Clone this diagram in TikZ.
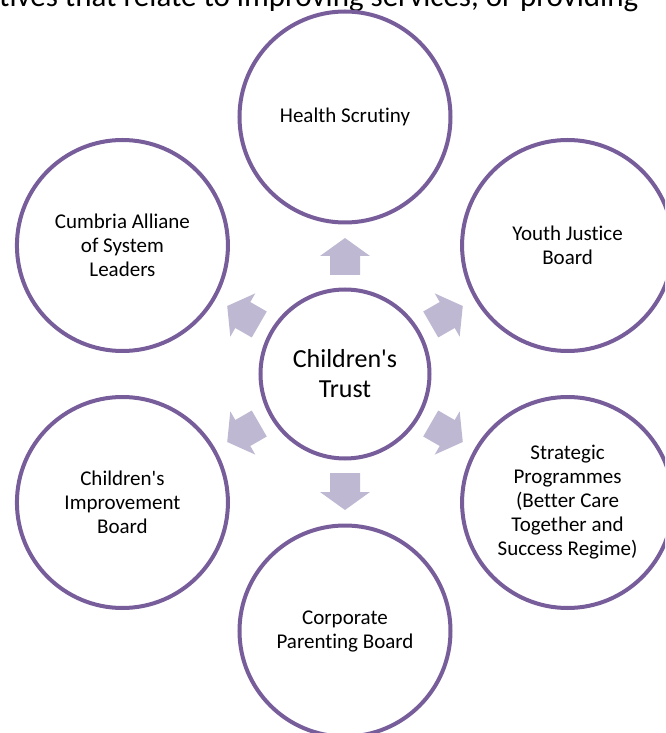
\documentclass[tikz,border=0pt]{standalone}
\usepackage{fontspec}
\setmainfont{Carlito}[Ligatures={TeXOff,CommonOff}]
\usetikzlibrary{calc}
\definecolor{RingClr}{RGB}{120,93,155}
\definecolor{ArrowClr}{RGB}{191,184,210}

\begin{document}
\begin{tikzpicture}[
  ring/.style={circle,draw=RingClr,fill=white,line width=4pt,minimum size=211pt,
    inner sep=0pt,align=center,font=\fontsize{21}{24}\selectfont},
  hub/.style={ring,minimum size=169pt,font=\fontsize{26}{30}\selectfont}]

\useasboundingbox (-345pt,-359pt) rectangle (320pt,374pt);
\clip (-345pt,-359pt) rectangle (320pt,374pt);

% cut-off line of text above the diagram
\node[anchor=base west,inner sep=0pt,font=\fontsize{31}{36}\selectfont] (cut) at (-346pt,367pt)
  {tives that relate to improving services, or providing};

\node[hub] (trust) at (0,0) {Children's\\Trust};

\node[ring] (health)   at (90:257pt)  {Health Scrutiny};
\node[ring] (youth)    at (30:257pt)  {Youth Justice\\Board};
\node[ring] (strat)    at (-30:257pt) {Strategic\\Programmes\\(Better Care\\Together and\\Success Regime)};
\node[ring] (corp)     at (-90:257pt) {Corporate\\Parenting Board};
\node[ring] (improve)  at (210:257pt) {Children's\\Improvement\\Board};
\node[ring] (cumbria)  at (150:257pt) {Cumbria Alliane\\of System\\Leaders};

% block arrows from the hub
\foreach \a in {90,30,-30,-90,210,150}{
  \begin{scope}[shift={(trust.center)},rotate=\a]
    \fill[ArrowClr] (99pt,-15pt) -- (118pt,-15pt) -- (118pt,-25pt) -- (136pt,0pt)
      -- (118pt,25pt) -- (118pt,15pt) -- (99pt,15pt) -- cycle;
  \end{scope}
}

\end{tikzpicture}
\end{document}
